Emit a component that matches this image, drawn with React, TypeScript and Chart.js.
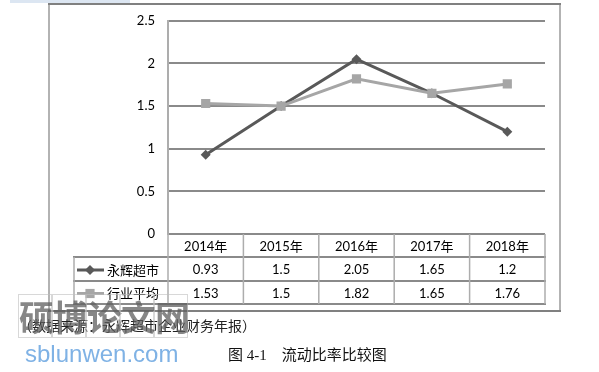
import React, { useEffect, useRef } from "react";
import { Chart, registerables } from "chart.js";

Chart.register(...registerables);

// ---- data ----
const categories = ["2014年", "2015年", "2016年", "2017年", "2018年"];
const seriesNames = ["永辉超市", "行业平均"];
const yonghuiValues = [0.93, 1.5, 2.05, 1.65, 1.2];
const industryValues = [1.53, 1.5, 1.82, 1.65, 1.76];
const yMin = 0;
const yMax = 2.5;
const yStep = 0.5;
const sourceNote = "（数据来源：永辉超市企业财务年报）";
const captionText = "图 4-1    流动比率比较图";
const watermarkChars = ["硕", "博", "论", "文", "网"];
const watermarkUrl = "sblunwen.com";

// ---- styles ----
const DARK = "#595959";
const LIGHT = "#a6a6a6";
const H_LINE = "#8a8a8a";
const V_LINE = "#adadad";
const LATIN = "Lato, 'Noto Sans CJK SC', sans-serif";
const CJK = "'Noto Sans CJK SC', Lato, sans-serif";

function drawMarker(ctx: CanvasRenderingContext2D, style: string, x: number, y: number, r: number, color: string) {
  ctx.save();
  ctx.fillStyle = color;
  ctx.beginPath();
  if (style === "rectRot") {
    ctx.moveTo(x - r, y);
    ctx.lineTo(x, y - r);
    ctx.lineTo(x + r, y);
    ctx.lineTo(x, y + r);
    ctx.closePath();
  } else {
    const s = r * Math.SQRT1_2;
    ctx.rect(x - s, y - s, 2 * s, 2 * s);
  }
  ctx.fill();
  ctx.restore();
}

const framePlugin = {
  id: "frame",
  beforeDraw(chart: any) {
    const ctx: CanvasRenderingContext2D = chart.ctx;
    ctx.save();
    ctx.fillStyle = "#ffffff";
    ctx.fillRect(0, 0, chart.width, chart.height);
    ctx.lineWidth = 2;
    ctx.strokeStyle = "#b3b3b3";
    ctx.beginPath();
    ctx.moveTo(49, 4);
    ctx.lineTo(49, 311);
    ctx.moveTo(560, 4);
    ctx.lineTo(560, 311);
    ctx.stroke();
    ctx.strokeStyle = "#808080";
    ctx.beginPath();
    ctx.moveTo(48, 4);
    ctx.lineTo(561, 4);
    ctx.moveTo(48, 311);
    ctx.lineTo(561, 311);
    ctx.stroke();
    ctx.restore();
  },
};

const tablePlugin = {
  id: "dataTable",
  afterDraw(chart: any) {
    const ctx: CanvasRenderingContext2D = chart.ctx;
    const xs = chart.scales.x;
    const area = chart.chartArea;
    const n = categories.length;
    const colW = (area.right - area.left) / n;
    const centers = categories.map((_, i) => xs.getPixelForValue(i));
    const edges = [centers[0] - colW / 2, ...centers.map((c) => c + colW / 2)];
    const top = area.bottom;
    const rows = [top, top + 23, top + 47, top + 70];
    const legendLeft = 74;

    ctx.save();
    // horizontal lines
    ctx.strokeStyle = H_LINE;
    ctx.lineWidth = 2;
    ctx.beginPath();
    for (let r = 1; r < rows.length; r++) {
      ctx.moveTo(legendLeft - 1, rows[r]);
      ctx.lineTo(edges[n] + 1, rows[r]);
    }
    ctx.stroke();
    // vertical lines
    ctx.strokeStyle = V_LINE;
    ctx.lineWidth = 1.5;
    ctx.beginPath();
    ctx.moveTo(legendLeft, rows[1]);
    ctx.lineTo(legendLeft, rows[3]);
    for (let i = 0; i <= n; i++) {
      ctx.moveTo(edges[i], rows[0]);
      ctx.lineTo(edges[i], rows[3]);
    }
    ctx.stroke();

    ctx.fillStyle = "#000000";
    ctx.textAlign = "center";
    ctx.textBaseline = "middle";
    // header
    ctx.font = `13px ${LATIN}`;
    categories.forEach((c, i) => {
      ctx.fillText(c, centers[i], (rows[0] + rows[1]) / 2 + 1);
    });
    const series = [
      { name: seriesNames[0], values: yonghuiValues, color: DARK, style: "rectRot", r: 5 },
      { name: seriesNames[1], values: industryValues, color: LIGHT, style: "rect", r: 6.5 },
    ];
    series.forEach((s, k) => {
      const cy = (rows[k + 1] + rows[k + 2]) / 2 + 1;
      ctx.font = `13px ${LATIN}`;
      ctx.fillStyle = "#000000";
      ctx.textAlign = "center";
      s.values.forEach((v, i) => ctx.fillText(String(v), centers[i], cy));
      // legend symbol
      ctx.strokeStyle = s.color;
      ctx.lineWidth = 3;
      ctx.beginPath();
      ctx.moveTo(legendLeft + 3, cy);
      ctx.lineTo(legendLeft + 30, cy);
      ctx.stroke();
      drawMarker(ctx, s.style, legendLeft + 16, cy, s.r, s.color);
      ctx.fillStyle = "#000000";
      ctx.textAlign = "left";
      ctx.font = `13px ${CJK}`;
      ctx.fillText(s.name, legendLeft + 33, cy);
    });
    ctx.restore();
  },
};

export default function App() {
  const canvasRef = useRef<HTMLCanvasElement | null>(null);

  useEffect(() => {
    if (!canvasRef.current) return;
    const chart = new Chart(canvasRef.current, {
      type: "line",
      data: {
        labels: categories,
        datasets: [
          {
            label: seriesNames[0],
            data: yonghuiValues,
            borderColor: DARK,
            backgroundColor: DARK,
            borderWidth: 3,
            pointStyle: "rectRot",
            pointRadius: 5,
            pointBorderWidth: 0,
            pointBackgroundColor: DARK,
            tension: 0,
            order: 2,
          },
          {
            label: seriesNames[1],
            data: industryValues,
            borderColor: LIGHT,
            backgroundColor: LIGHT,
            borderWidth: 3,
            pointStyle: "rect",
            pointRadius: 6.5,
            pointBorderWidth: 0,
            pointBackgroundColor: LIGHT,
            tension: 0,
            order: 1,
          },
        ],
      },
      options: {
        responsive: false,
        animation: false,
        devicePixelRatio: 1,
        layout: { padding: { left: 0, right: 54, top: 20, bottom: 138 } },
        plugins: { legend: { display: false }, tooltip: { enabled: false } },
        scales: {
          x: { type: "category", offset: true, display: false },
          y: {
            min: yMin,
            max: yMax,
            ticks: {
              stepSize: yStep,
              padding: 13,
              color: "#000000",
              font: { family: LATIN, size: 13 },
              callback: (v: any) => String(Number(v)),
            },
            grid: { color: H_LINE, lineWidth: 2, drawTicks: false },
            border: { display: true, color: V_LINE, width: 2 },
            afterFit: (s: any) => {
              s.width = 168;
            },
          },
        },
      },
      plugins: [framePlugin, tablePlugin],
    } as any);
    return () => chart.destroy();
  }, []);

  return (
    <div style={{ position: "absolute", left: 0, top: 0, width: 599, height: 372, background: "#fff", overflow: "hidden" }}>
      <canvas ref={canvasRef} width={599} height={372} style={{ display: "block", position: "absolute", left: 0, top: 0 }} />
      <div style={{ position: "absolute", left: 10, top: 0, width: 120, height: 3, background: "#dce6f2" }} />
      <div
        style={{
          position: "absolute",
          left: 18,
          top: 315,
          fontFamily: "'Noto Sans CJK SC', sans-serif",
          fontSize: 14,
          lineHeight: "20px",
          color: "#222",
          whiteSpace: "pre",
        }}
      >
        {sourceNote}
      </div>
      <div
        style={{
          position: "absolute",
          left: 18,
          top: 294,
          display: "flex",
          fontFamily: "'Noto Sans CJK SC', sans-serif",
          fontWeight: 700,
          fontSize: 35,
          lineHeight: "42px",
          color: "rgba(95,95,95,0.75)",
        }}
      >
        {watermarkChars.map((c, i) => (
          <span key={i} style={{ display: "inline-block", width: 34, textAlign: "center", border: "1px solid rgba(190,190,190,0.6)", boxSizing: "border-box" }}>
            {c}
          </span>
        ))}
      </div>
      <div
        style={{
          position: "absolute",
          left: 25,
          top: 340,
          fontFamily: "'Liberation Sans', Arial, sans-serif",
          fontSize: 24,
          lineHeight: "28px",
          color: "#7fb2e5",
          whiteSpace: "pre",
        }}
      >
        {watermarkUrl}
      </div>
      <div
        style={{
          position: "absolute",
          left: 228,
          top: 345,
          fontFamily: "'Liberation Serif', 'Noto Sans CJK SC', serif",
          fontSize: 15,
          lineHeight: "20px",
          color: "#111",
          whiteSpace: "pre",
        }}
      >
        {captionText}
      </div>
    </div>
  );
}
